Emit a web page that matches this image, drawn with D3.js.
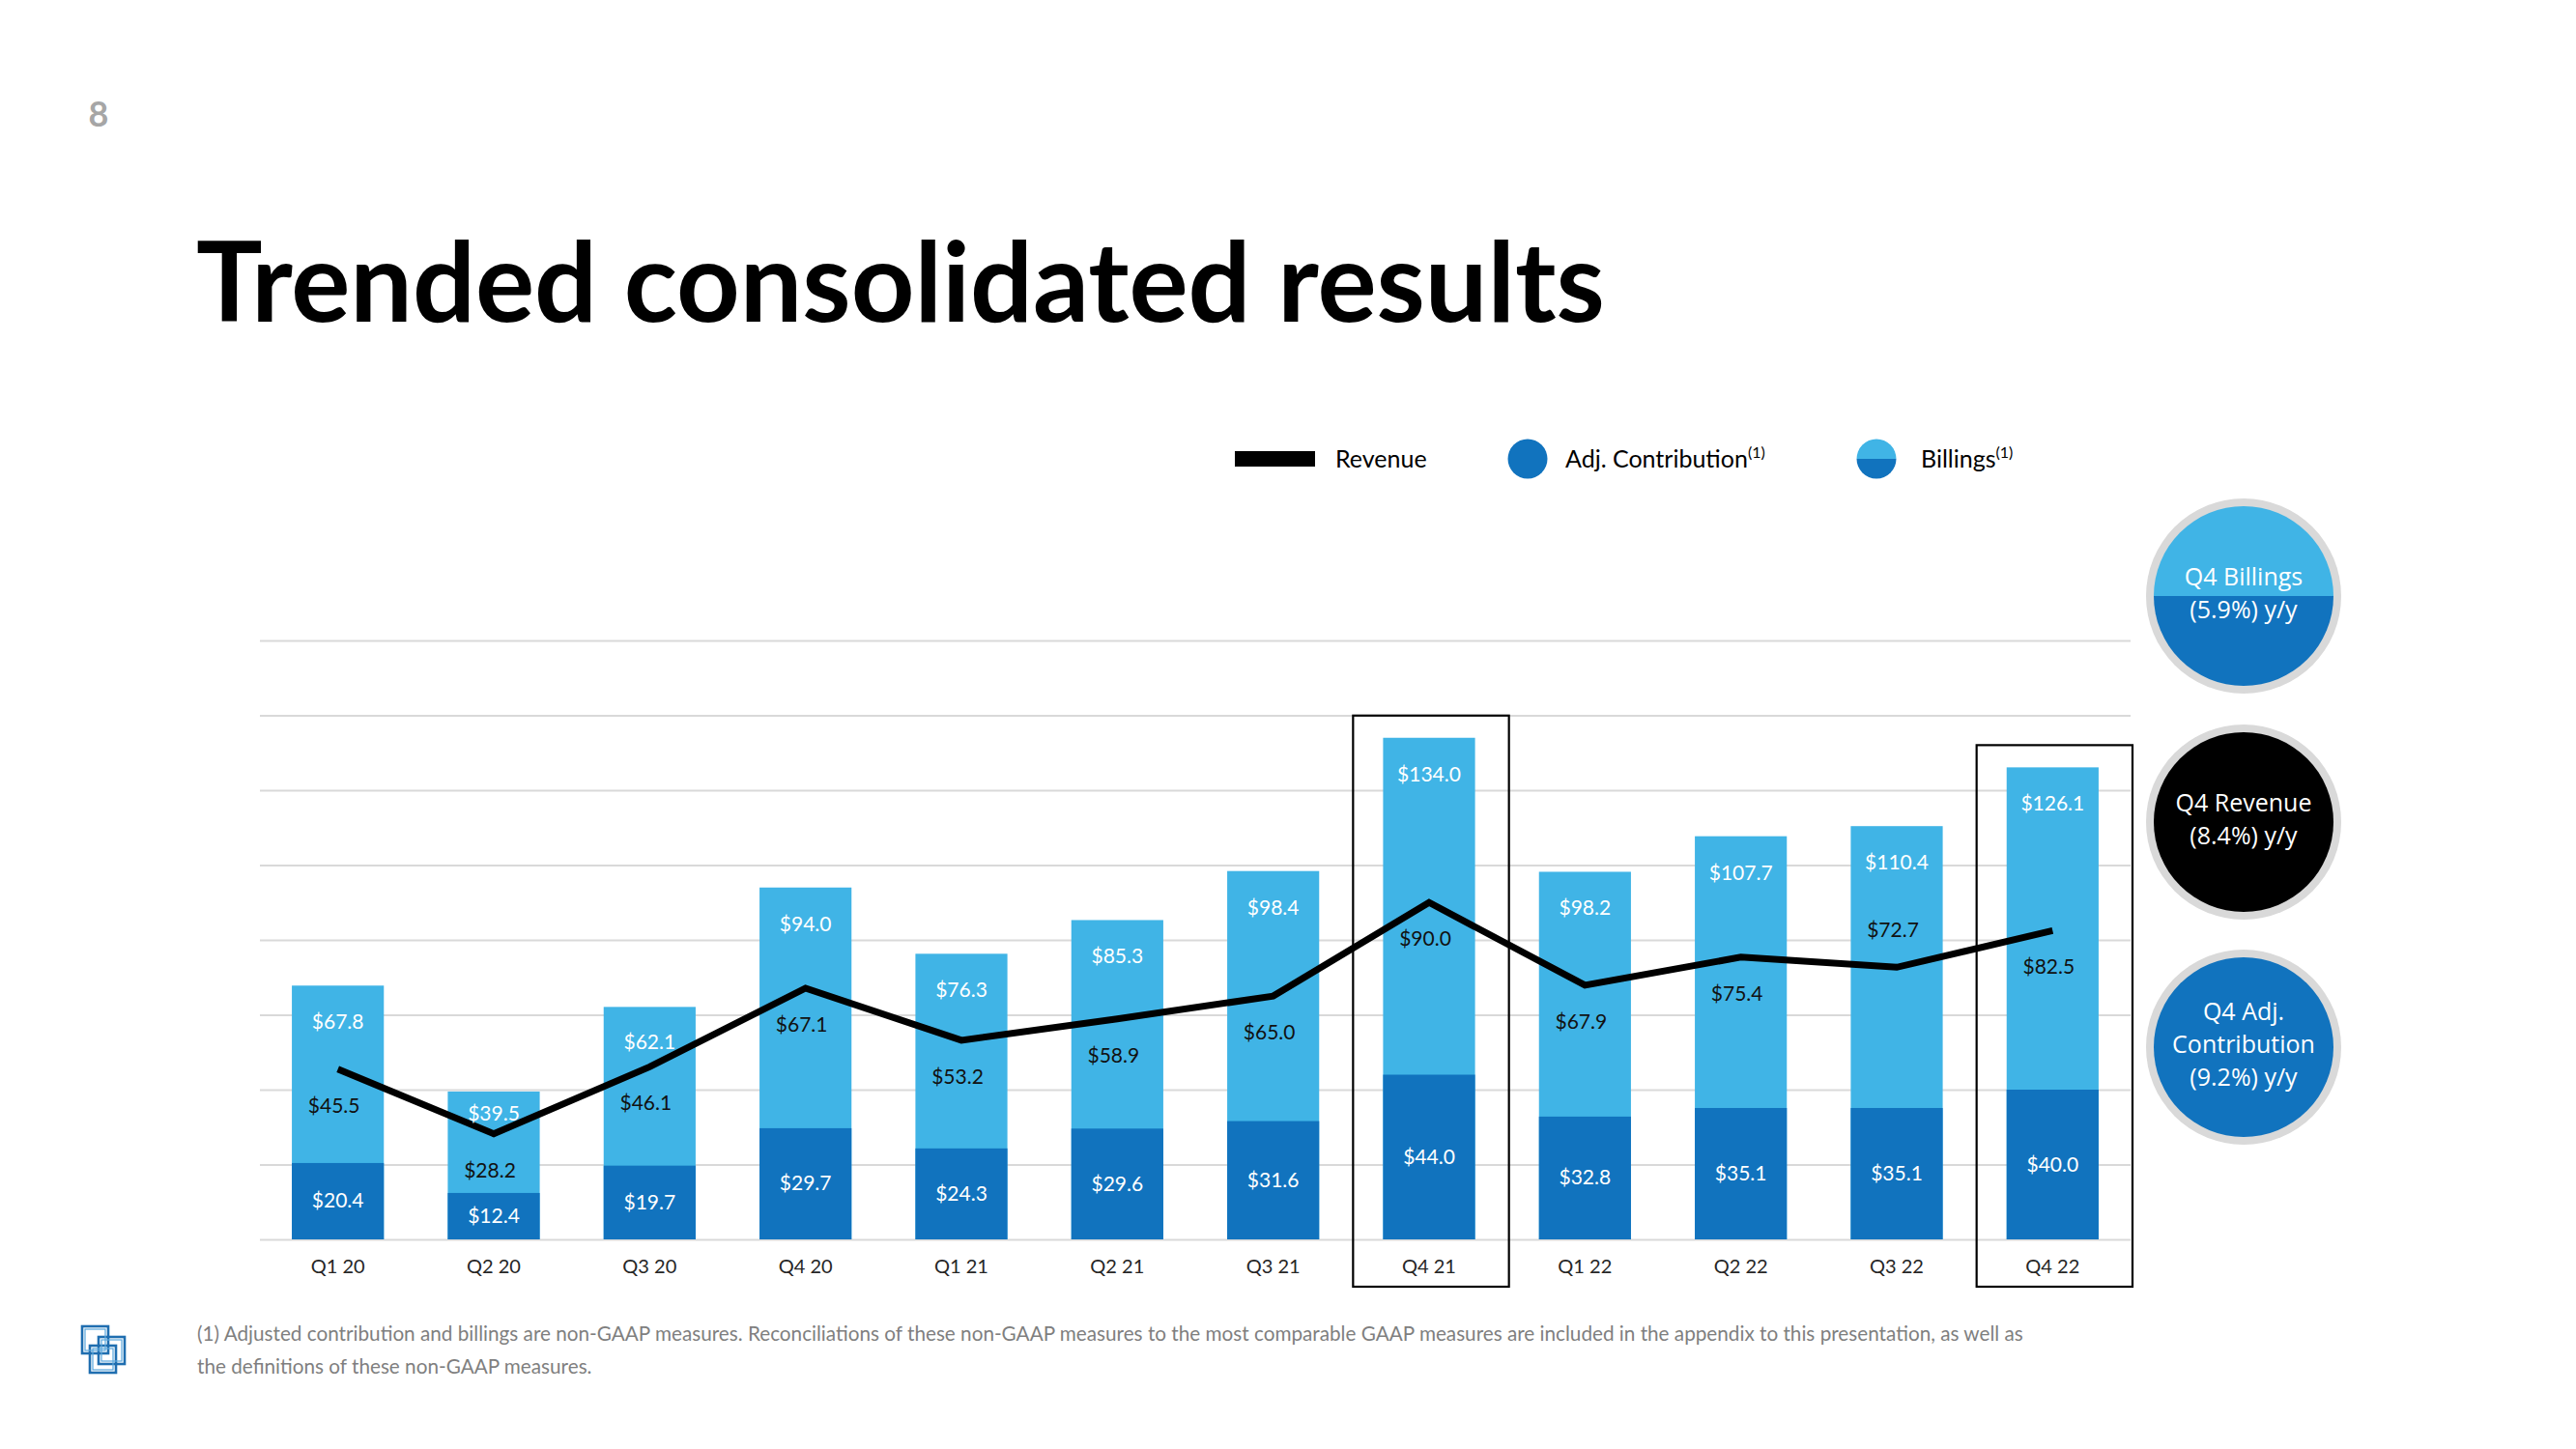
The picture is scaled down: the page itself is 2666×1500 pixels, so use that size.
<!DOCTYPE html>
<html>
<head>
<meta charset="utf-8">
<script src="https://cdn.jsdelivr.net/npm/d3@7/dist/d3.min.js"></script>
<style>
  html, body { margin: 0; padding: 0; background: #ffffff; }
  svg { display: block; }
</style>
</head>
<body>
<svg id="chart" width="2666" height="1500"></svg>
<script>
// ---------------- DATA ----------------
const categories = ["Q1 20","Q2 20","Q3 20","Q4 20","Q1 21","Q2 21","Q3 21","Q4 21","Q1 22","Q2 22","Q3 22","Q4 22"];
const billings = [67.8, 39.5, 62.1, 94.0, 76.3, 85.3, 98.4, 134.0, 98.2, 107.7, 110.4, 126.1];
const revenue = [45.5, 28.2, 46.1, 67.1, 53.2, 58.9, 65.0, 90.0, 67.9, 75.4, 72.7, 82.5];
const adjContribution = [20.4, 12.4, 19.7, 29.7, 24.3, 29.6, 31.6, 44.0, 32.8, 35.1, 35.1, 40.0];
const yTicks = [0, 20, 40, 60, 80, 100, 120, 140, 160];
const highlighted = ["Q4 21", "Q4 22"];
const revenueLabelsAbove = ["Q3 22"];
const legendItems = ["Revenue", "Adj. Contribution", "Billings"];
const calloutTitles = [["Q4 Billings", "(5.9%) y/y"], ["Q4 Revenue", "(8.4%) y/y"], ["Q4 Adj.", "Contribution", "(9.2%) y/y"]];
const titleText = "Trended consolidated results";
const footnoteLines = [
  "(1) Adjusted contribution and billings are non-GAAP measures. Reconciliations of these non-GAAP measures to the most comparable GAAP measures are included in the appendix to this presentation, as well as",
  "the definitions of these non-GAAP measures."
];
const pageNumber = "8";

// ---------------- STYLE ----------------
const LIGHT = "#40b4e6";
const DARK = "#1173be";
const GRID = "#d9d9d9";
const FONT = "Lato, 'Open Sans', sans-serif";
const CFONT = "'Open Sans', Lato, sans-serif";

const svg = d3.select("#chart");

function fitWidth(sel, w) {
  const cur = sel.node().getComputedTextLength();
  const fs = parseFloat(sel.attr("font-size"));
  sel.attr("font-size", fs * w / cur);
}

// page number
svg.append("text").attr("x", 102).attr("y", 131).attr("text-anchor", "middle")
  .attr("font-family", FONT).attr("font-weight", 700).attr("font-size", 36)
  .attr("fill", "#a6a6a6").text(pageNumber);

// title
const title = svg.append("text").attr("x", 203).attr("y", 333)
  .attr("font-family", FONT).attr("font-weight", 700).attr("font-size", 112)
  .attr("fill", "#000").text(titleText);
fitWidth(title, 1458);

// ---------------- SCALES ----------------
const x = d3.scaleBand().domain(categories).range([269, 2205]).paddingInner(0.41).paddingOuter(0.205);
const y = d3.scaleLinear().domain([0, 160]).range([1283, 663]);

// gridlines via axis
const yAxis = d3.axisLeft(y).tickValues(yTicks).tickSize(-(2205 - 269)).tickFormat("");
const gy = svg.append("g").attr("transform", "translate(269,0)").call(yAxis);
gy.select(".domain").remove();
gy.selectAll(".tick line").attr("stroke", GRID).attr("stroke-width", 2.2);

// highlight boxes
svg.append("g").selectAll("rect").data(highlighted).join("rect")
  .attr("x", d => x(d) + x.bandwidth() / 2 - x.step() / 2 + 2)
  .attr("width", x.step())
  .attr("y", d => y(billings[categories.indexOf(d)]) - 23)
  .attr("height", d => 1332 - (y(billings[categories.indexOf(d)]) - 23))
  .attr("fill", "none").attr("stroke", "#000").attr("stroke-width", 2.2);

// bars
const gb = svg.append("g");
gb.selectAll("rect.bill").data(categories).join("rect").attr("class", "bill")
  .attr("x", d => x(d)).attr("width", x.bandwidth())
  .attr("y", (d, i) => y(billings[i])).attr("height", (d, i) => y(0) - y(billings[i]))
  .attr("fill", LIGHT);
gb.selectAll("rect.contrib").data(categories).join("rect").attr("class", "contrib")
  .attr("x", d => x(d)).attr("width", x.bandwidth())
  .attr("y", (d, i) => y(adjContribution[i])).attr("height", (d, i) => y(0) - y(adjContribution[i]))
  .attr("fill", DARK);

// revenue line
const line = d3.line().x((d, i) => x(categories[i]) + x.bandwidth() / 2).y(d => y(d));
svg.append("path").datum(revenue).attr("d", line)
  .attr("fill", "none").attr("stroke", "#000").attr("stroke-width", 7)
  .attr("stroke-linejoin", "miter");

// x axis labels
const xAxis = d3.axisBottom(x).tickSize(0).tickPadding(0);
const gx = svg.append("g").attr("transform", "translate(0,1283)").call(xAxis);
gx.select(".domain").remove();
gx.selectAll(".tick text").attr("font-family", FONT).attr("font-size", 20)
  .attr("fill", "#262626").attr("dy", null).attr("y", 35);

// labels
const fmt = v => "$" + d3.format(".1f")(v);
const gl = svg.append("g").attr("font-family", FONT).attr("font-size", 21).attr("text-anchor", "middle");
gl.selectAll("text.bl").data(categories).join("text").attr("class", "bl")
  .attr("x", d => x(d) + x.bandwidth() / 2)
  .attr("y", (d, i) => y(billings[i]) + Math.min(38, (y(adjContribution[i]) - y(billings[i])) * 0.22) + 7)
  .attr("fill", "#ffffff").text((d, i) => fmt(billings[i]));
gl.selectAll("text.cl").data(categories).join("text").attr("class", "cl")
  .attr("x", d => x(d) + x.bandwidth() / 2)
  .attr("y", (d, i) => (y(adjContribution[i]) + y(0)) / 2 + 7)
  .attr("fill", "#ffffff").text((d, i) => fmt(adjContribution[i]));
gl.selectAll("text.rl").data(categories).join("text").attr("class", "rl")
  .attr("x", d => x(d) + x.bandwidth() / 2 - 4)
  .attr("y", (d, i) => y(revenue[i]) + (revenueLabelsAbove.includes(d) ? -38 : 38) + 7)
  .attr("fill", "#111111").text((d, i) => fmt(revenue[i]));

// ---------------- LEGEND ----------------
const lg = svg.append("g").attr("font-family", FONT).attr("font-size", 25).attr("fill", "#000");
lg.append("rect").attr("x", 1278).attr("y", 467).attr("width", 83).attr("height", 16).attr("fill", "#000");
lg.append("text").attr("x", 1382).attr("y", 484).text(legendItems[0]);
lg.append("circle").attr("cx", 1581).attr("cy", 475).attr("r", 20.5).attr("fill", DARK);
const t2 = lg.append("text").attr("x", 1620).attr("y", 484).text(legendItems[1]);
t2.append("tspan").attr("font-size", 16).attr("dy", -10).text("(1)");
const lgClip = svg.append("clipPath").attr("id", "lgclip");
lgClip.append("circle").attr("cx", 1942).attr("cy", 475).attr("r", 20.5);
lg.append("rect").attr("x", 1920).attr("y", 454).attr("width", 44).attr("height", 21).attr("fill", LIGHT).attr("clip-path", "url(#lgclip)");
lg.append("rect").attr("x", 1920).attr("y", 475).attr("width", 44).attr("height", 22).attr("fill", DARK).attr("clip-path", "url(#lgclip)");
const t3 = lg.append("text").attr("x", 1988).attr("y", 484).text(legendItems[2]);
t3.append("tspan").attr("font-size", 16).attr("dy", -10).text("(1)");

// ---------------- CALLOUT CIRCLES ----------------
const cx = 2322, rOuter = 101, rInner = 93;
const cys = [617, 851, 1084];
const fills = ["split", "#000000", DARK];
cys.forEach((cy, k) => {
  const g = svg.append("g");
  g.append("circle").attr("cx", cx).attr("cy", cy).attr("r", rOuter).attr("fill", GRID);
  if (fills[k] === "split") {
    const cp = svg.append("clipPath").attr("id", "cclip" + k);
    cp.append("circle").attr("cx", cx).attr("cy", cy).attr("r", rInner);
    g.append("rect").attr("x", cx - rInner).attr("y", cy - rInner).attr("width", 2 * rInner).attr("height", rInner)
      .attr("fill", LIGHT).attr("clip-path", "url(#cclip" + k + ")");
    g.append("rect").attr("x", cx - rInner).attr("y", cy).attr("width", 2 * rInner).attr("height", rInner)
      .attr("fill", DARK).attr("clip-path", "url(#cclip" + k + ")");
  } else {
    g.append("circle").attr("cx", cx).attr("cy", cy).attr("r", rInner).attr("fill", fills[k]);
  }
  const lines = calloutTitles[k];
  const lh = 34;
  lines.forEach((s, j) => {
    g.append("text").attr("x", cx).attr("y", cy - (lines.length - 1) * lh / 2 + j * lh + 6)
      .attr("text-anchor", "middle").attr("font-family", CFONT).attr("font-size", 25)
      .attr("fill", "#ffffff").text(s);
  });
});

// ---------------- FOOTNOTE ----------------
const f1 = svg.append("text").attr("x", 204).attr("y", 1388).attr("font-family", FONT)
  .attr("font-size", 19).attr("fill", "#7f7f7f").text(footnoteLines[0]);
fitWidth(f1, 1891);
svg.append("text").attr("x", 204).attr("y", 1422).attr("font-family", FONT)
  .attr("font-size", f1.attr("font-size")).attr("fill", "#7f7f7f").text(footnoteLines[1]);

// logo icon
const logo = svg.append("g").attr("fill", "none").attr("stroke", "#1f6eb0").attr("stroke-width", 2.6);
logo.append("rect").attr("x", 85).attr("y", 1373).attr("width", 27).attr("height", 28);
logo.append("rect").attr("x", 102).attr("y", 1384).attr("width", 27).attr("height", 28);
logo.append("rect").attr("x", 93).attr("y", 1393).attr("width", 27).attr("height", 28);
const logo2 = svg.append("g").attr("fill", "none").attr("stroke", "#5aa7dc").attr("stroke-width", 1.2);
logo2.append("rect").attr("x", 88).attr("y", 1376).attr("width", 21).attr("height", 22);
logo2.append("rect").attr("x", 105).attr("y", 1387).attr("width", 21).attr("height", 22);
logo2.append("rect").attr("x", 96).attr("y", 1396).attr("width", 21).attr("height", 22);
</script>
</body>
</html>
